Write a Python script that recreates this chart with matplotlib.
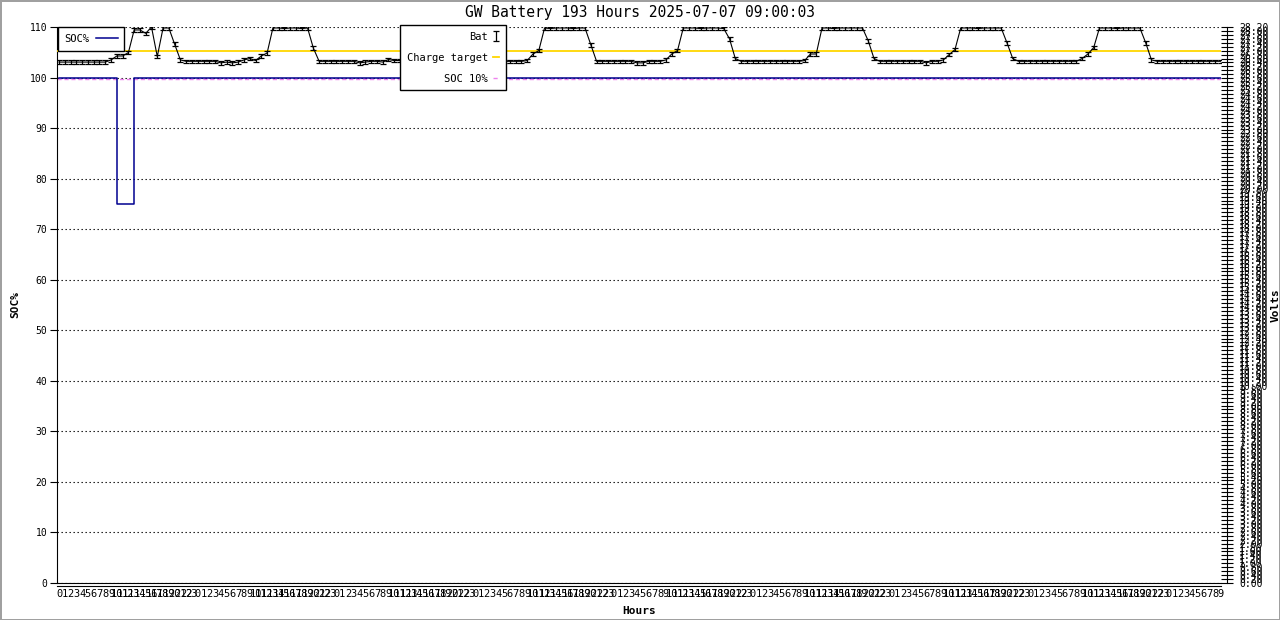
import numpy as np
import matplotlib
matplotlib.use("Agg")
import matplotlib.pyplot as plt

# ---- data (one point per hour) ----
TITLE = "GW Battery 193 Hours 2025-07-07 09:00:03"
START_HOUR = 0

bat_volts = [
    26.42, 26.42, 26.42, 26.42, 26.42, 26.42, 26.42, 26.42, 26.42, 26.53,
    26.73, 26.73, 26.90, 28.05, 28.05, 27.88, 28.20, 26.70, 28.15, 28.15,
    27.33, 26.53, 26.46, 26.46, 26.46, 26.46, 26.46, 26.46, 26.38, 26.42,
    26.38, 26.42, 26.53, 26.60, 26.50, 26.73, 26.88, 28.15, 28.15, 28.12,
    28.15, 28.15, 28.12, 28.15, 27.13, 26.46, 26.46, 26.46, 26.46, 26.46,
    26.46, 26.46, 26.38, 26.42, 26.46, 26.46, 26.42, 26.55, 26.50, 26.50,
    26.85, 28.15, 28.15, 28.15, 28.12, 28.15, 28.15, 28.15, 27.20, 26.46,
    26.46, 26.46, 26.46, 26.46, 26.46, 26.46, 26.46, 26.46, 26.46, 26.46,
    26.46, 26.50, 26.83, 27.00, 28.15, 28.12, 28.15, 28.15, 28.15, 28.12,
    28.15, 28.15, 27.30, 26.46, 26.46, 26.46, 26.46, 26.46, 26.46, 26.46,
    26.38, 26.38, 26.46, 26.46, 26.46, 26.53, 26.83, 27.00, 28.15, 28.15,
    28.15, 28.12, 28.15, 28.15, 28.15, 28.12, 27.60, 26.60, 26.46, 26.46,
    26.46, 26.46, 26.46, 26.46, 26.46, 26.46, 26.46, 26.46, 26.46, 26.50,
    26.83, 26.83, 28.15, 28.15, 28.12, 28.15, 28.15, 28.15, 28.15, 28.15,
    27.50, 26.60, 26.46, 26.46, 26.46, 26.46, 26.46, 26.46, 26.46, 26.46,
    26.38, 26.46, 26.46, 26.53, 26.80, 27.05, 28.15, 28.15, 28.15, 28.12,
    28.15, 28.15, 28.15, 28.15, 27.40, 26.60, 26.46, 26.46, 26.46, 26.46,
    26.46, 26.46, 26.46, 26.46, 26.46, 26.46, 26.46, 26.60, 26.83, 27.15,
    28.15, 28.15, 28.15, 28.12, 28.15, 28.15, 28.15, 28.15, 27.40, 26.53,
    26.46, 26.46, 26.46, 26.46, 26.46, 26.46, 26.46, 26.46, 26.46, 26.46,
    26.46, 26.46,
]
soc_pct = [100] * 10 + [75] * 3 + [100] * 189
CHARGE_TARGET_V = 27.0
SOC_10_LINE = 99.8
BAT_ERR = 0.09
VOLT_MAX = 28.2

NAVY = "#000090"
GOLD = "#ffd700"
PINK = "#ee82ee"

plt.rcParams["font.family"] = ["DejaVu Sans Mono"]

W, H = 1280, 620
x_l, x_r, y_t, y_b = 57, 1221, 27, 583

fig = plt.figure(figsize=(W / 100, H / 100), dpi=100)
fig.patch.set_edgecolor("#a0a0a0")
fig.patch.set_linewidth(2)
ax = fig.add_axes([x_l / W, 1 - y_b / H, (x_r - x_l) / W, (y_b - y_t) / H])
ax2 = ax.twinx()

x = np.arange(len(bat_volts))
hours = [(START_HOUR + i) % 24 for i in range(len(bat_volts))]

# left axis: SOC
soc_line, = ax.plot(x, soc_pct, color=NAVY, lw=1.1, drawstyle="steps-post", label="SOC%", zorder=3)
soc10_line = ax.axhline(SOC_10_LINE, color=PINK, lw=1, ls=(0, (3, 2)), label="SOC 10%", zorder=2)
ax.set_ylim(0, 110)
ax.set_xlim(-0.35, len(bat_volts) - 1 + 0.03)
ax.set_yticks(np.arange(0, 111, 10))
ax.yaxis.grid(True, color="black", lw=0.8, ls=(0, (1.2, 2.4)))
ax.tick_params(axis="y", direction="out", length=5, width=0.8, labelsize=7, pad=2)
ax.set_xticks(x)
ax.set_xticklabels([str(h) for h in hours])
ax.tick_params(axis="x", direction="in", length=0, labelsize=7.5, pad=4)
ax.spines["top"].set_visible(False)
ax.spines["right"].set_visible(False)
ax.set_ylabel("SOC%", fontsize=8, fontweight="bold")
ax.yaxis.set_label_coords((20 - x_l) / (x_r - x_l), 0.5)
ax.set_xlabel("Hours", fontsize=8, fontweight="bold", labelpad=5)

# right axis: volts
ax2.plot(x, bat_volts, color="black", lw=0.8, zorder=3)
bat_err = ax2.errorbar(x, bat_volts, yerr=BAT_ERR, fmt="none", ecolor="black",
                       elinewidth=0.9, capsize=2.3, capthick=0.9, label="Bat", zorder=3)
ct_line = ax2.axhline(CHARGE_TARGET_V, color=GOLD, lw=1.3, label="Charge target", zorder=2)
ax2.set_ylim(0, VOLT_MAX)
vt = np.arange(0, VOLT_MAX + 0.01, 0.2)
ax2.set_yticks(vt)
ax2.set_yticklabels([f"{v:.2f}" for v in vt])
ax2.tick_params(axis="y", direction="inout", length=8, width=0.8, labelsize=7, pad=5)
ax2.spines["top"].set_visible(False)
ax2.spines["left"].set_visible(False)
ax2.spines["right"].set_position(("outward", 4))
ax2.spines["bottom"].set_position(("outward", 2))
ax2.set_ylabel("Volts", fontsize=8, fontweight="bold")
ax2.yaxis.set_label_coords((1271 - x_l) / (x_r - x_l), 0.5)

fig.text(0.5, 1 - 13 / H, TITLE, ha="center", va="center", fontsize=10.5)

# legends (both on top axes so they cover the lines)
leg1 = ax2.legend([soc_line], ["SOC%"], loc="upper left", bbox_to_anchor=(0.0007, 1.0),
                  markerfirst=False, fontsize=7.5, handlelength=2.1, borderaxespad=0,
                  fancybox=False, framealpha=1, edgecolor="black", borderpad=0.65,
                  handletextpad=0.6)
leg1.get_frame().set_linewidth(1)
ax2.add_artist(leg1)
leg2 = ax2.legend([bat_err, ct_line, soc10_line], ["Bat", "Charge target", "SOC 10%"],
                  loc="upper left", bbox_to_anchor=((400 - x_l) / (x_r - x_l), 1 + 2 / (y_b - y_t)),
                  markerfirst=False, fontsize=7.5, handlelength=0.6, borderaxespad=0,
                  fancybox=False, framealpha=1, edgecolor="black", labelspacing=1.05,
                  borderpad=0.65, handletextpad=0.5)
leg2.get_frame().set_linewidth(1)
leg2._legend_handle_box.get_children()[0].align = "right"

fig.savefig("out.png", dpi=100, edgecolor=fig.get_edgecolor())
